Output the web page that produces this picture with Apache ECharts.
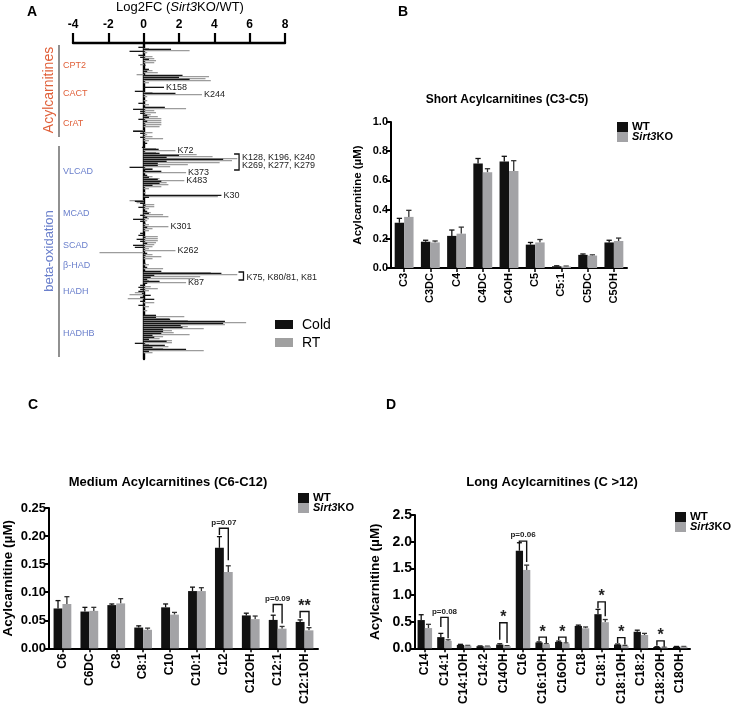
<!DOCTYPE html>
<html><head><meta charset="utf-8">
<script src="https://cdn.jsdelivr.net/npm/echarts@6/dist/echarts.min.js"></script>
<style>html,body{margin:0;padding:0;background:#fff}#c{width:731px;height:707px}</style>
</head><body><div id="c"></div>
<script>
// ---------- Panel A data (Log2FC Sirt3KO/WT), one row per acetylation site ----------
const A_COLD = [
0,0,
-0.3,1.55,-0.8,0,-0.3,-0.2,0.3,0,0,0.1,
0,0.3,0.2,0,2.2,2.0,2.6,0,0,0,
1.15,0,-0.5,1.8,0,0,0,0,-0.3,0,
1.2,-0.6,-0.2,-0.2,0.2,0.3,-0.3,0.2,0,0.1,
0,0,-0.6,-0.2,0,-0.2,0,0,0.2,0,
-0.1,0.85,0,0.9,2.0,1.3,4.5,1.3,0.8,0.8,
-0.8,0.5,1.0,0,0.2,0.3,0.8,1.0,0.9,0.5,
0,0,0,0,4.4,0.3,0,-0.5,-0.2,0.1,
-0.3,0,0.2,0.3,-0.2,0.2,-0.6,-0.2,0.1,0,
0.2,0,0,-0.2,-0.3,0.1,-0.4,-0.2,0.2,-0.6,
-0.5,0,0,0.2,0.1,0,0,0,0.1,0,
0.2,0,1.0,4.4,0.6,0.4,0.2,0.9,0.2,-0.2,
-0.3,-0.2,-0.3,-0.1,0.4,-0.2,0.6,-0.2,0,-0.3,
0,0,0,0,0.7,0.7,1.5,4.6,4.5,2.1,
2.2,1.1,1.1,1.0,0.5,0.6,0.3,1.3,-0.5,1.2,
0.5,2.4,0.3,0,0,
0];
const A_RT = [
0,0,
0.3,2.6,0.2,0,0.5,0.6,0.7,0.6,-0.2,0,
0,0.5,0.8,-0.4,3.7,3.5,3.8,0.3,0,0,
0,0,0.5,3.3,0.2,0,0.2,0,0.3,0,
2.4,0.6,0.7,0.4,0.8,1.0,1.0,1.0,1.0,0.9,
0,-0.6,0.5,0.2,0.5,1.1,0.3,0,0,0,
0.7,1.8,0.7,3.0,3.9,5.3,5.0,4.3,2.5,1.5,
0.5,0,2.4,0,0.5,0.9,2.3,1.3,1.4,1.0,
0.3,0,0.1,0,4.2,0,-0.8,-0.4,0.6,0.6,
0.3,0,0.4,1.1,1.4,0.3,0.2,0,0.3,1.4,
0.5,0.3,0,0,0.8,0.8,0.8,0.7,0.6,0.5,
0.3,1.8,-2.5,0.5,1.0,0.5,0,0,0.3,0,
1.1,0,3.8,5.3,3.2,2.9,0.3,2.4,0,0.4,
0.8,0.3,-0.5,-0.8,0,-0.9,0,0.6,0,0.3,
0,0.2,0,0,2.3,1.45,2.5,5.8,4.6,2.5,
3.4,1.6,1.7,2.6,1.1,0.9,1.6,1.6,0.3,1.4,
1.1,3.4,0.5,0,0,
0];
const A_TICKS = [-4,-2,0,2,4,6,8];
// site labels: [text, series, row]
const A_SITES = [['K158','cold',22],['K244','rt',25],['K72','rt',53],['K373','rt',64],['K483','rt',68],
                 ['K30','cold',76],['K301','rt',91],['K262','rt',103],['K87','rt',119]];
// brackets: [x, rowTop, rowBottom, [ [text,row], ... ]]
const A_BRACKETS = [[5.4,55,63,[['K128, K196, K240',56.5],['K269, K277, K279',61]]],
                    [5.65,113.8,118.3,[['K75, K80/81, K81',116.5]]]];
// protein groups: [name, row, color]
const A_PROTEINS = [['CPT2',11,'#e0603a'],['CACT',25,'#e0603a'],['CrAT',39.5,'#e0603a'],
  ['VLCAD',64,'#6b80cc'],['MCAD',84.5,'#6b80cc'],['SCAD',101,'#6b80cc'],['β-HAD',111,'#6b80cc'],
  ['HADH',124,'#6b80cc'],['HADHB',144.5,'#6b80cc']];

// ---------- Panel B ----------
const B_CATS = ['C3','C3DC','C4','C4DC','C4OH','C5','C5:1','C5DC','C5OH'];
const B_WT = [0.31,0.18,0.22,0.715,0.73,0.16,0.012,0.09,0.175];
const B_WT_ERR = [0.03,0.01,0.04,0.035,0.035,0.015,0.003,0.006,0.015];
const B_KO = [0.35,0.175,0.235,0.655,0.665,0.175,0.01,0.085,0.185];
const B_KO_ERR = [0.045,0.01,0.045,0.025,0.07,0.02,0.003,0.005,0.02];
const B_SIG = [];

// ---------- Panel C ----------
const C_CATS = ['C6','C6DC','C8','C8:1','C10','C10:1','C12','C12OH','C12:1','C12:1OH'];
const C_WT = [0.071,0.0655,0.077,0.037,0.073,0.102,0.179,0.0586,0.0506,0.047];
const C_WT_ERR = [0.014,0.0075,0.002,0.003,0.006,0.007,0.02,0.004,0.0084,0.0036];
const C_KO = [0.079,0.0667,0.080,0.033,0.060,0.102,0.136,0.052,0.035,0.032];
const C_KO_ERR = [0.013,0.0063,0.0085,0.003,0.004,0.006,0.011,0.0055,0.004,0.0048];
// [category, bracketTop, leftLegBottom, rightLegBottom, label]
const C_SIG = [[6,0.2138,0.2017,0.157,'p=0.07'],[8,0.078,0.064,0.044,'p=0.09'],[9,0.0655,0.054,0.0397,'**']];

// ---------- Panel D ----------
const D_CATS = ['C14','C14:1','C14:1OH','C14:2','C14OH','C16','C16:1OH','C16OH','C18','C18:1','C18:1OH','C18:2','C18:2OH','C18OH'];
const D_WT = [0.53,0.21,0.065,0.04,0.07,1.83,0.11,0.12,0.42,0.64,0.07,0.31,0.025,0.03];
const D_WT_ERR = [0.1,0.07,0.01,0.005,0.015,0.15,0.01,0.015,0.015,0.09,0.01,0.03,0.005,0.005];
const D_KO = [0.38,0.14,0.05,0.035,0.04,1.47,0.075,0.09,0.375,0.49,0.045,0.25,0.015,0.03];
const D_KO_ERR = [0.07,0.02,0.005,0.005,0.01,0.09,0.01,0.01,0.025,0.05,0.01,0.03,0.005,0.005];
const D_SIG = [[1,0.58,0.4,0.19,'p=0.08'],[4,0.48,0.16,0.1,'*'],[5,2.01,1.96,1.62,'p=0.06'],
  [6,0.21,0.14,0.1,'*'],[7,0.21,0.15,0.11,'*'],[9,0.87,0.75,0.6,'*'],[10,0.2,0.1,0.07,'*'],[12,0.14,0.05,0.03,'*']];

const FONT = 'Liberation Sans, Arial, sans-serif';
const BLACK = '#111111', GRAY = '#a3a3a6';

const chart = echarts.init(document.getElementById('c'), null, {renderer:'canvas'});

const grids = [], xAxes = [], yAxes = [], series = [];

// ----- Panel A -----
grids.push({left:73, width:212, top:43, height:A_COLD.length*2});
xAxes.push({gridIndex:0, type:'value', position:'top', min:-4, max:8, interval:2,
  axisLine:{show:true, onZero:false, lineStyle:{color:'#000', width:2.4}},
  axisTick:{show:true, length:10, lineStyle:{color:'#000', width:2.2}},
  axisLabel:{color:'#000', fontFamily:FONT, fontWeight:'bold', fontSize:12, margin:12},
  splitLine:{show:false}});
yAxes.push({gridIndex:0, type:'category', inverse:true, data:A_COLD.map((v,i)=>i),
  axisLine:{show:true, onZero:true, lineStyle:{color:'#000', width:2.4}},
  axisTick:{show:false}, axisLabel:{show:false}, splitLine:{show:false}});
function withSites(arr, key){
  return arr.map((v,i)=>{
    const s = A_SITES.find(t=>t[1]===key && t[2]===i);
    if(!s) return v;
    return {value:v, label:{show:true, position:'right', distance:2, formatter:s[0],
      fontFamily:FONT, fontSize:9, color:'#222'}};
  });
}
series.push({type:'bar', name:'Cold', xAxisIndex:0, yAxisIndex:0, data:withSites(A_COLD,'cold'),
  barWidth:1.3, barGap:'0%', itemStyle:{color:'#151515'}, silent:true, animation:false, z:3});
series.push({type:'bar', name:'RT', xAxisIndex:0, yAxisIndex:0, data:withSites(A_RT,'rt'),
  barWidth:1.3, barGap:'0%', itemStyle:{color:'#9c9c9c'}, silent:true, animation:false, z:2});
series.push({type:'custom', xAxisIndex:0, yAxisIndex:0, data:A_BRACKETS.map((b,i)=>[b[0],b[1],b[2]]),
  silent:true, animation:false,
  renderItem:function(params, api){
    const b = A_BRACKETS[params.dataIndex];
    const pT = api.coord([b[0], b[1]]), pB = api.coord([b[0], b[2]]);
    const w = 5;
    const ch = [{type:'polyline', shape:{points:[[pT[0]-w,pT[1]],[pT[0],pT[1]],[pB[0],pB[1]],[pB[0]-w,pB[1]]]},
      style:{stroke:'#111', lineWidth:1.3, fill:null}}];
    b[3].forEach(t=>{
      const p = api.coord([b[0], t[1]]);
      ch.push({type:'text', style:{text:t[0], x:p[0]+3, y:p[1], fontFamily:FONT, fontSize:9, fill:'#222',
        textAlign:'left', textVerticalAlign:'middle'}});
    });
    return {type:'group', children:ch};
  }});
// protein labels
series.push({type:'custom', xAxisIndex:0, yAxisIndex:0, data:A_PROTEINS.map(p=>[-4,p[1]]),
  silent:true, animation:false,
  renderItem:function(params, api){
    const p = A_PROTEINS[params.dataIndex];
    const c = api.coord([-4, p[1]]);
    return {type:'text', style:{text:p[0], x:63, y:c[1], fontFamily:FONT, fontSize:9, fill:p[2],
      textAlign:'left', textVerticalAlign:'middle'}};
  }});

// ----- bar panels helper -----
function barPanel(gi, grid, cats, wt, wtErr, ko, koErr, sig, yMax, yInt, fmt, bwFrac, opts){
  grids.push(grid);
  xAxes.push({gridIndex:gi, type:'category', data:cats,
    axisLine:{lineStyle:{color:'#000', width:2}}, axisTick:{show:true, length:4, alignWithLabel:true, lineStyle:{color:'#000',width:1.5}},
    axisLabel:{rotate:90, color:'#000', fontFamily:FONT, fontWeight:'bold', fontSize:opts.xFont, margin:5, interval:0}});
  yAxes.push({gridIndex:gi, type:'value', min:0, max:yMax, interval:yInt,
    name:'Acylcarnitine (µM)', nameLocation:'middle', nameGap:opts.nameGap, nameRotate:90,
    nameTextStyle:{color:'#000', fontFamily:FONT, fontWeight:'bold', fontSize:opts.nameFont},
    axisLine:{show:true, lineStyle:{color:'#000', width:2}},
    axisTick:{show:true, length:5, lineStyle:{color:'#000', width:2}},
    axisLabel:{color:'#000', fontFamily:FONT, fontWeight:'bold', fontSize:opts.yFont, margin:3,
      formatter:v=>v.toFixed(fmt)},
    splitLine:{show:false}});
  const bw = (bwFrac*100)+'%';
  series.push({type:'bar', name:'WT', xAxisIndex:gi, yAxisIndex:gi, data:wt, barWidth:bw, barGap:'0%',
    itemStyle:{color:BLACK}, silent:true, animation:false, z:3});
  series.push({type:'bar', name:'Sirt3KO', xAxisIndex:gi, yAxisIndex:gi, data:ko, barWidth:bw, barGap:'0%',
    itemStyle:{color:GRAY}, silent:true, animation:false, z:3});
  function errSeries(vals, errs, side, color){
    return {type:'custom', xAxisIndex:gi, yAxisIndex:gi, silent:true, animation:false, z:2,
      data:vals.map((v,i)=>[i, v, errs[i]]),
      renderItem:function(params, api){
        const i = api.value(0), v = api.value(1), e = api.value(2);
        const p0 = api.coord([i, v]), p1 = api.coord([i, v+e]);
        const w = api.size([1,0])[0]*bwFrac;
        const x = p0[0] + side*w/2;
        const cap = Math.max(2.5, w*0.28);
        return {type:'group', children:[
          {type:'line', shape:{x1:x, y1:p0[1], x2:x, y2:p1[1]}, style:{stroke:color, lineWidth:1.3}},
          {type:'line', shape:{x1:x-cap, y1:p1[1], x2:x+cap, y2:p1[1]}, style:{stroke:color, lineWidth:1.3}}
        ]};
      }};
  }
  series.push(errSeries(wt, wtErr, -1, '#111'));
  series.push(errSeries(ko, koErr, 1, '#333'));
  if(sig.length){
    series.push({type:'custom', xAxisIndex:gi, yAxisIndex:gi, silent:true, animation:false, z:4,
      data:sig.map(s=>[s[0], s[1], s[2], s[3]]),
      renderItem:function(params, api){
        const s = sig[params.dataIndex];
        const w = api.size([1,0])[0]*bwFrac;
        const pc = api.coord([s[0], s[1]]);
        const xL = pc[0]-w/2, xR = pc[0]+w/2;
        const yT = pc[1], yL = api.coord([s[0], s[2]])[1], yR = api.coord([s[0], s[3]])[1];
        const star = s[4].indexOf('*')===0;
        return {type:'group', children:[
          {type:'polyline', shape:{points:[[xL,yL],[xL,yT],[xR,yT],[xR,yR]]}, style:{stroke:'#111', lineWidth:1.4, fill:null}},
          {type:'text', style:{text:s[4], x:pc[0], y: star ? yT+3 : yT-2, fontFamily:FONT,
            fontSize: star ? 16 : 8, fontWeight:'bold', fill:'#222', textAlign:'center',
            textVerticalAlign:'bottom'}}
        ]};
      }});
  }
}

barPanel(1, {left:391, width:236, top:122, height:146}, B_CATS, B_WT, B_WT_ERR, B_KO, B_KO_ERR, B_SIG,
  1.0, 0.2, 1, 0.36, {xFont:11, yFont:11, nameFont:11.5, nameGap:27});
barPanel(2, {left:42, width:276, top:508, height:145}, C_CATS, C_WT, C_WT_ERR, C_KO, C_KO_ERR, C_SIG,
  0.25, 0.05, 2, 0.33, {xFont:12, yFont:13, nameFont:13.5, nameGap:34});
barPanel(3, {left:415, width:275, top:515, height:138}, D_CATS, D_WT, D_WT_ERR, D_KO, D_KO_ERR, D_SIG,
  2.5, 0.5, 1, 0.37, {xFont:12, yFont:14, nameFont:13.5, nameGap:33});

// ----- text / legend graphics -----
function legend(x, y){
  return [
    {type:'rect', shape:{x:x, y:y-5, width:11, height:10}, style:{fill:BLACK}},
    {type:'text', style:{text:'WT', x:x+15, y:y, fontFamily:FONT, fontWeight:'bold', fontSize:11.5, fill:'#000', textVerticalAlign:'middle'}},
    {type:'rect', shape:{x:x, y:y+5, width:11, height:10}, style:{fill:GRAY}},
    {type:'text', style:{rich:{i:{fontStyle:'italic', fontWeight:'bold', fontFamily:FONT, fontSize:11},
      n:{fontWeight:'bold', fontFamily:FONT, fontSize:11}}, text:'{i|Sirt3}{n|KO}', x:x+15, y:y+10, fill:'#000', textVerticalAlign:'middle'}}
  ];
}
const graphics = [
  {type:'text', style:{text:'A', x:27, y:12, fontFamily:FONT, fontWeight:'bold', fontSize:14, fill:'#000', textVerticalAlign:'middle'}},
  {type:'text', style:{text:'B', x:398, y:12, fontFamily:FONT, fontWeight:'bold', fontSize:14, fill:'#000', textVerticalAlign:'middle'}},
  {type:'text', style:{text:'C', x:28, y:405, fontFamily:FONT, fontWeight:'bold', fontSize:14, fill:'#000', textVerticalAlign:'middle'}},
  {type:'text', style:{text:'D', x:386, y:405, fontFamily:FONT, fontWeight:'bold', fontSize:14, fill:'#000', textVerticalAlign:'middle'}},
  {type:'text', style:{rich:{n:{fontFamily:FONT, fontSize:13}, i:{fontFamily:FONT, fontSize:13, fontStyle:'italic'}},
    text:'{n|Log2FC (}{i|Sirt3}{n|KO/WT)}', x:180, y:7, textAlign:'center', textVerticalAlign:'middle', fill:'#000'}},
  {type:'line', shape:{x1:59, y1:45, x2:59, y2:137}, style:{stroke:'#555', lineWidth:1.3}},
  {type:'line', shape:{x1:59, y1:146, x2:59, y2:357}, style:{stroke:'#555', lineWidth:1.3}},
  {type:'text', rotation:Math.PI/2, x:49, y:90, style:{text:'Acylcarnitines', x:0, y:0, fontFamily:FONT, fontSize:14, fill:'#e0603a', textAlign:'center', textVerticalAlign:'middle'}},
  {type:'text', rotation:Math.PI/2, x:49, y:251, style:{text:'beta-oxidation', x:0, y:0, fontFamily:FONT, fontSize:13, fill:'#6b80cc', textAlign:'center', textVerticalAlign:'middle'}},
  {type:'rect', shape:{x:275, y:320, width:18, height:9}, style:{fill:'#111'}},
  {type:'text', style:{text:'Cold', x:302, y:325, fontFamily:FONT, fontSize:14, fill:'#000', textVerticalAlign:'middle'}},
  {type:'rect', shape:{x:275, y:338, width:18, height:9}, style:{fill:'#a0a0a0'}},
  {type:'text', style:{text:'RT', x:302, y:343, fontFamily:FONT, fontSize:14, fill:'#000', textVerticalAlign:'middle'}},
  {type:'text', style:{text:'Short Acylcarnitines (C3-C5)', x:507, y:100, fontFamily:FONT, fontWeight:'bold', fontSize:12, fill:'#000', textAlign:'center', textVerticalAlign:'middle'}},
  {type:'text', style:{text:'Medium Acylcarnitines (C6-C12)', x:168, y:482, fontFamily:FONT, fontWeight:'bold', fontSize:13, fill:'#000', textAlign:'center', textVerticalAlign:'middle'}},
  {type:'text', style:{text:'Long Acylcarnitines (C >12)', x:552, y:482, fontFamily:FONT, fontWeight:'bold', fontSize:13, fill:'#000', textAlign:'center', textVerticalAlign:'middle'}}
].concat(legend(617,127), legend(298,498), legend(675,517));

chart.setOption({
  animation:false,
  backgroundColor:'#fff',
  grid:grids, xAxis:xAxes, yAxis:yAxes, series:series,
  graphic:graphics
});
</script></body></html>
